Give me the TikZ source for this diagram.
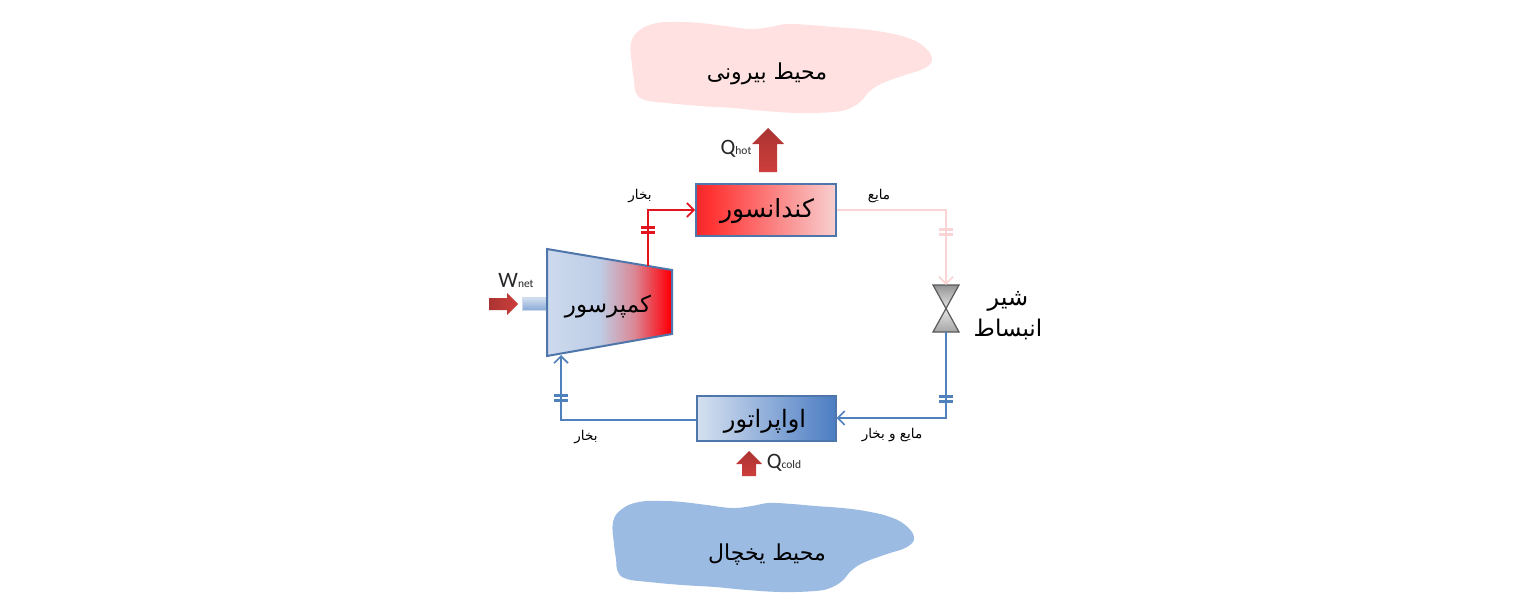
\documentclass[tikz,border=0pt]{standalone}
\usepackage{fontspec}
\usetikzlibrary{arrows.meta,calc}
\TeXXeTstate=1
\newfontfamily\arabicfont[Script=Arabic]{DejaVu Sans}
\newfontfamily\latinfont{Carlito}
\newcommand{\fasize}[1]{\fontsize{#1}{#1}\arabicfont}
\newcommand{\qlabel}[2]{{\latinfont\color{qtext}\fontsize{22}{22}\selectfont #1\fontsize{11.5}{12}\selectfont #2}}
\definecolor{boxline}{RGB}{79,118,170}
\definecolor{hotline}{RGB}{226,20,30}
\definecolor{liqline}{RGB}{250,212,212}
\definecolor{coldline}{RGB}{79,129,189}
\definecolor{qtext}{RGB}{40,40,40}
\definecolor{hotblob}{RGB}{255,225,225}
\definecolor{coldblob}{RGB}{155,187,227}
\definecolor{cA}{RGB}{205,218,238}
\definecolor{cB}{RGB}{190,205,230}
\definecolor{cM}{RGB}{218,135,148}
\definecolor{cC}{RGB}{255,0,10}
\definecolor{cD}{RGB}{214,225,240}
\definecolor{cE}{RGB}{75,125,195}
\definecolor{cF}{RGB}{240,40,45}
\definecolor{cG}{RGB}{255,50,50}
\definecolor{cH}{RGB}{248,208,208}
\pgfdeclarehorizontalshading{condshade}{100bp}{color(0bp)=(cF); color(25bp)=(cF); color(30bp)=(cG); color(75bp)=(cH); color(100bp)=(cH)}
\pgfdeclarehorizontalshading{compshade}{100bp}{color(0bp)=(cA); color(25bp)=(cA); color(46bp)=(cB); color(60bp)=(cM); color(74bp)=(cC); color(100bp)=(cC)}
\pgfdeclarehorizontalshading{evapshade}{100bp}{color(0bp)=(cD); color(25bp)=(cD); color(75bp)=(cE); color(100bp)=(cE)}
\definecolor{arrowA}{RGB}{170,52,50}
\definecolor{arrowB}{RGB}{205,62,60}
\tikzset{
  unitbox/.style={draw=boxline,line width=2pt,inner sep=0pt,anchor=center},
  flowhot/.style={hotline,line width=2pt,-{Straight Barb[length=7pt,width=14pt,line width=1.6pt]}},
  flowliq/.style={liqline,line width=2pt,-{Straight Barb[length=7pt,width=14pt,line width=1.6pt]}},
  flowcold/.style={coldline,line width=2pt,-{Straight Barb[length=7pt,width=14pt,line width=1.6pt]}},
  tickmark/.style={line width=3pt},
  bigarrow/.style={draw=none,bottom color=arrowB,top color=arrowA},
  lbl/.style={inner sep=0pt,anchor=center},
}
\newcommand{\blobshape}{(631,43) (640,30) (657,23) (680,22) (700,23) (725,26) (750,29) (770,27) (787,24) (810,25) (833,27) (860,29) (883,32) (905,37) (922,45) (932,58) (925,68) (905,75) (883,83) (870,91) (860,102) (848,109) (833,112) (800,113) (765,111) (733,108) (700,106) (667,103) (645,100) (636,93) (634,80) (632,65)}
\newcommand{\twoticks}[2]{\draw[tickmark,#1] ($(#2)+(-7,-2.8)$) -- ($(#2)+(7,-2.8)$); \draw[tickmark,#1] ($(#2)+(-7,2.8)$) -- ($(#2)+(7,2.8)$);}
\begin{document}
\begin{tikzpicture}[x=1pt,y=-1pt]
\useasboundingbox (0,0) rectangle (1532,613);
\fill[white] (0,0) rectangle (1532,613);
% blobs
\fill[hotblob] plot[smooth cycle,tension=0.7] coordinates {\blobshape};
\begin{scope}[shift={(-18,479)}]
\fill[coldblob] plot[smooth cycle,tension=0.7] coordinates {\blobshape};
\end{scope}
\node[lbl] (outside) at (767,74) {\fasize{22}\beginR محیط بیرونی\endR};
\node[lbl] (fridge) at (767,555) {\fasize{22}\beginR محیط یخچال\endR};
% shaft
\draw[draw=cA,line width=1pt,top color=cD,bottom color=cE!65] (522,297) rectangle (547,310);
% compressor
\path[shade,shading=compshade,draw=boxline,line width=2pt] (547,249) -- (672,270) -- (672,334) -- (547,356) -- cycle;
\coordinate (compout) at (648,266);
\coordinate (compin) at (561,355);
\node[lbl] (compressor) at (608,307) {\fasize{23}\beginR کمپرسور\endR};
% condenser and evaporator
\node[unitbox,minimum width=140pt,minimum height=52pt,shading=condshade,shade] (condenser) at (766,210) {};
\node[lbl] (condenserlabel) at (767,211) {\fasize{25}\beginR کندانسور\endR};
\node[unitbox,minimum width=139pt,minimum height=45pt,shading=evapshade,shade] (evaporator) at (766,418.5) {};
\node[lbl] (evaporatorlabel) at (765,421) {\fasize{24}\beginR اواپراتور\endR};
% valve
\node[inner sep=0pt,minimum width=26pt,minimum height=47pt] (valve) at (946,308.5) {};
\path[draw=black!65,line width=1.2pt,top color=black!42,bottom color=black!10] (933,285) -- (959,285) -- (946,308.5) -- cycle;
\path[draw=black!65,line width=1.2pt,top color=black!10,bottom color=black!35] (946,308.5) -- (959,332) -- (933,332) -- cycle;
\node[lbl] (valvelabelA) at (1008,301) {\fasize{24}\beginR شیر\endR};
\node[lbl] (valvelabelB) at (1008,329) {\fasize{23}\beginR انبساط\endR};
% connectors
\coordinate (bendA) at (648,210);
\coordinate (bendB) at (946,210);
\coordinate (bendC) at (946,418);
\coordinate (bendD) at (561,420);
\draw[flowhot] (compout) -- (bendA) -- (condenser.west |- bendA);
\draw[flowliq] (condenser.east |- bendB) -- (bendB) -- (valve.north);
\draw[flowcold] (valve.south) -- (bendC) -- (evaporator.east |- bendC);
\draw[flowcold] (evaporator.west |- bendD) -- (bendD) -- (compin);
\coordinate (tickA) at (648,230);
\coordinate (tickB) at (946,232);
\coordinate (tickC) at (946,399);
\coordinate (tickD) at (561,398);
\twoticks{hotline}{tickA}
\twoticks{liqline}{tickB}
\twoticks{coldline}{tickC}
\twoticks{coldline}{tickD}
% flow labels
\node[lbl] (labA) at (640,196) {\fasize{13.5}\beginR بخار\endR};
\node[lbl] (labB) at (586,437) {\fasize{13.5}\beginR بخار\endR};
\node[lbl] (labC) at (879,196) {\fasize{13.5}\beginR مایع\endR};
\node[lbl] (labD) at (892,435) {\fasize{13.5}\beginR مایع و بخار\endR};
% heat and work arrows
\path[bigarrow] (759,172) -- (759,144) -- (752,144) -- (768,128) -- (784,144) -- (777,144) -- (777,172) -- cycle;
\path[bigarrow] (742,476) -- (742,464) -- (736,464) -- (749,451) -- (762,464) -- (756,464) -- (756,476) -- cycle;
\path[draw=none,left color=arrowA,right color=arrowB] (489,298) -- (507,298) -- (507,293) -- (518,304) -- (507,315) -- (507,310) -- (489,310) -- cycle;
\node[lbl] (qhot) at (736,149) {\qlabel{Q}{hot}};
\node[lbl] (qcold) at (784,463) {\qlabel{Q}{cold}};
\node[lbl] (wnet) at (516,280) {\qlabel{W}{net}};
\end{tikzpicture}
\end{document}
